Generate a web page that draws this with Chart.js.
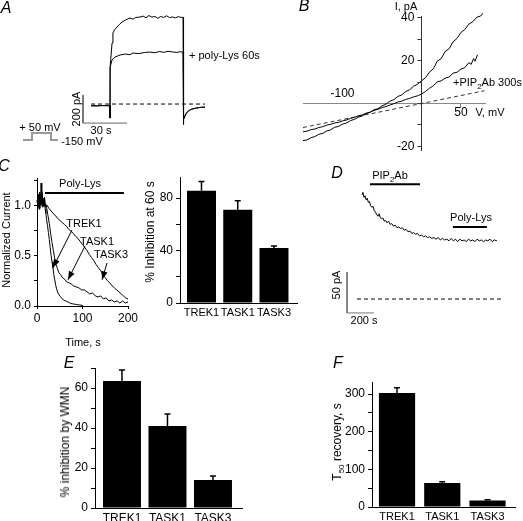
<!DOCTYPE html>
<html>
<head>
<meta charset="utf-8">
<title>Poly-Lys and PIP2 antibody on K2P channels</title>
<script src="https://cdn.jsdelivr.net/npm/chart.js@4.4.1/dist/chart.umd.min.js"></script>
<style>
  body { margin: 0; background: #fff; }
  #fig { position: relative; width: 523px; height: 521px; overflow: hidden;
         font-family: "Liberation Sans", Arial, sans-serif; color: #000; }
  #fig canvas { position: absolute; left: 0; top: 0; }
  .t { position: absolute; white-space: nowrap; font-size: 11px; line-height: 1;
       transform: translate(-50%, -50%); }
  .l { transform: translate(0, -50%); }
  .v { transform: translate(-50%, -50%) rotate(-90deg); }
  .big { font-size: 12px; }
  .p { font-style: italic; font-size: 16px; }
  sub { font-size: 8px; vertical-align: -3px; line-height: 0; }
</style>
</head>
<body>
<div id="fig">
  <canvas id="chA" width="523" height="521"></canvas>
  <canvas id="chB" width="523" height="521"></canvas>
  <canvas id="chBy" width="523" height="521"></canvas>
  <canvas id="chC" width="523" height="521"></canvas>
  <canvas id="chC2" width="523" height="521"></canvas>
  <canvas id="chD" width="523" height="521"></canvas>
  <canvas id="chE" width="523" height="521"></canvas>
  <canvas id="chF" width="523" height="521"></canvas>

  <!-- A -->
  <div class="t p" style="left:6px;top:8px">A</div>
  <div class="t l" style="left:189px;top:55px">+ poly-Lys 60s</div>
  <div class="t v" style="left:76px;top:109px">200 pA</div>
  <div class="t" style="left:101px;top:130px">30 s</div>
  <div class="t" style="left:40px;top:127px">+ 50 mV</div>
  <div class="t" style="left:82px;top:141px">-150 mV</div>
  <!-- B -->
  <div class="t p" style="left:304px;top:6px">B</div>
  <div class="t" style="left:406px;top:6px">I, pA</div>
  <div class="t" style="left:490px;top:112px">V, mV</div>
  <div class="t l" style="left:453px;top:82px">+PIP<sub>2</sub>Ab 300s</div>
  <!-- C -->
  <div class="t p" style="left:4px;top:166px">C</div>
  <div class="t" style="left:80px;top:183px">Poly-Lys</div>
  <div class="t v" style="left:6px;top:240px">Normalized Current</div>
  <div class="t" style="left:84px;top:223px">TREK1</div>
  <div class="t" style="left:97px;top:241px">TASK1</div>
  <div class="t" style="left:111px;top:254px">TASK3</div>
  <div class="t" style="left:83px;top:342px">Time, s</div>
  <div class="t v big" style="left:150px;top:232px">% Inhibition at 60 s</div>
  <!-- D -->
  <div class="t p" style="left:337px;top:173px">D</div>
  <div class="t" style="left:390px;top:175px">PIP<sub>2</sub>Ab</div>
  <div class="t" style="left:471px;top:217px">Poly-Lys</div>
  <div class="t v" style="left:336px;top:285px">50 pA</div>
  <div class="t" style="left:364px;top:320px">200 s</div>
  <!-- E, F -->
  <div class="t p" style="left:69px;top:363px">E</div>
  <div class="t v big" style="left:65px;top:442px">% inhibition by WMN</div>
  <div class="t p" style="left:338px;top:363px">F</div>
  <div class="t v big" style="left:337px;top:442px">T<sub>50</sub> recovery, s</div>
</div>

<script>
const W = 523, H = 521;

// ---- A: current trace, time (s) vs current (pA)
const aControl = [[5.5,-12],[9,-13],[13,-11],[18.3,-12],[18.4,-100],[18.5,264],[19.8,435],[20.4,507],[21.5,530],[23.2,550],[24.8,568],[26.6,585],[29,600],[32,614],[34,606],[36,618],[38.9,621],[41,628],[43,615],[45,632],[47,620],[49,626],[51,612],[53,625],[55,618],[57,630],[59,617],[61,622],[63,615],[65,624],[67,618],[68.2,620],[68.3,-145],[68.8,-110],[69.5,-85],[70.5,-65],[72,-48],[74,-37],[77,-29],[80,-24],[83.2,-22]];
const aPolyLys = [[5.5,-12],[9,-13],[13,-11],[18.3,-12],[18.4,-100],[18.5,264],[19.8,314],[21.8,335],[25.2,350],[29,357],[32,352],[34,364],[38,360],[42,368],[45.7,371],[49,366],[52,375],[55,369],[58,377],[61,372],[64,368],[66,374],[68.2,370],[68.3,-145],[68.8,-110],[69.5,-85],[70.5,-65],[72,-48],[74,-37],[77,-29],[80,-24],[83.2,-22]];
const aZero = [[5.5,0],[83.2,0]];
const aScaleBar = [[0,64],[0,-136],[30,-136]];   // 200 pA, 30 s

// ---- B: I-V curves, mV vs pA
const bControl = [[-150,-17.3],[-145,-17.0],[-140,-16.0],[-135,-15.4],[-130,-14.4],[-125,-13.9],[-120,-12.8],[-115,-12.3],[-110,-11.1],[-105,-10.7],[-100,-9.6],[-95,-9.1],[-90,-8.0],[-85,-7.4],[-80,-6.4],[-75,-5.8],[-70,-4.7],[-65,-4.1],[-60,-2.9],[-55,-2.4],[-50,-1.1],[-45,-0.3],[-40,1.1],[-35,1.8],[-30,3.3],[-25,4.0],[-20,5.6],[-15,6.4],[-10,8.1],[-5,9.0],[0,10.6],[5,12.0],[10,14.6],[15,16.2],[20,19.8],[25,21.0],[30,24.3],[35,25.6],[40,28.8],[45,30.4],[50,33.2],[55,34.6],[60,37.1],[65,38.2],[70,40.3],[75,40.9],[78,42.2]];
const bPip2Ab = [[-150,-13.2],[-145,-12.9],[-140,-12.2],[-135,-11.9],[-130,-11.2],[-125,-10.8],[-120,-10.1],[-115,-9.7],[-110,-9.1],[-105,-8.8],[-100,-8.1],[-95,-7.7],[-90,-6.9],[-85,-6.5],[-80,-5.7],[-75,-5.3],[-70,-4.5],[-65,-4.0],[-60,-3.2],[-55,-2.7],[-50,-1.9],[-45,-1.4],[-40,-0.7],[-35,-0.1],[-30,0.7],[-25,1.1],[-20,1.9],[-15,2.4],[-10,3.1],[-5,3.6],[0,4.4],[5,5.6],[10,7.1],[15,8.3],[20,10.1],[25,10.6],[30,11.9],[35,12.4],[40,14.2],[45,14.6],[50,16.1],[55,16.8],[60,19.1],[63,18.3],[66,21.0],[68,19.8],[71,22.8]];
const bLeak = [[-150,-11.2],[80,6.0]];
const bTicksY = [40, 20, -20];
const bTickBelow = [50];
const bTickAbove = [-100];

// ---- C: normalized current vs time (s)
const cTrek1 = [[0,1.02],[1.5,1.1],[3,0.98],[4.5,1.06],[6,1.13],[7.5,1.0],[9,1.22],[10.5,1.04],[12,1.09],[13.5,0.99],[15,1.07],[16.5,1.02],[18,0.96],[19.5,0.92],[21,0.86],[23,0.8],[25,0.73],[27,0.66],[29,0.58],[31,0.5],[33,0.44],[35,0.38],[37,0.31],[39,0.26],[41,0.21],[43,0.17],[46,0.13],[50,0.1],[54,0.08],[58,0.06],[63,0.05],[68,0.04],[74,0.025],[80,0.02],[87,0.015],[94,0.01],[101,0.005]];
const cTask1 = [[0,1.05],[1.5,0.99],[3,1.11],[4.5,1.03],[6,0.97],[7.5,1.08],[9,1.02],[10.5,1.14],[12,0.98],[13.5,1.05],[15,1.01],[16.5,1.06],[18,0.99],[19.5,1.0],[21,0.98],[24,0.9],[27,0.82],[30,0.72],[33,0.63],[36,0.55],[39,0.47],[42,0.41],[45,0.37],[48,0.33],[52,0.31],[56,0.28],[60,0.27],[65,0.24],[70,0.23],[75,0.22],[80,0.2],[86,0.19],[92,0.18],[98,0.16],[104,0.16],[110,0.14],[116,0.12],[122,0.13],[128,0.1],[134,0.09],[140,0.1],[146,0.07],[152,0.08],[158,0.05],[164,0.06],[170,0.04],[176,0.05],[182,0.03],[188,0.05],[194,0.03],[200,0.04]];
const cTask3 = [[0,1.0],[1.5,1.07],[3,1.03],[4.5,0.96],[6,1.1],[7.5,1.04],[9,1.0],[10.5,1.12],[12,1.06],[13.5,0.99],[15,1.03],[16.5,1.08],[18,1.01],[19.5,0.98],[22,1.0],[26,0.97],[30,0.95],[35,0.92],[40,0.9],[45,0.87],[50,0.85],[55,0.83],[60,0.81],[65,0.79],[70,0.76],[75,0.74],[80,0.72],[85,0.69],[90,0.67],[95,0.64],[100,0.61],[105,0.58],[110,0.55],[115,0.51],[120,0.48],[125,0.45],[130,0.41],[135,0.38],[140,0.35],[145,0.31],[150,0.28],[155,0.25],[160,0.23],[165,0.2],[170,0.18],[175,0.16],[180,0.14],[185,0.12],[190,0.1],[195,0.08],[200,0.07]];
const cPolyLys = [17.6, 191];          // application period, s
const cTicksY = [0, 0.5, 1];
const cTicksX = [0, 100, 200];

// ---- D: current (pA) vs time (s)
const dTrace = [[111,127],[118,130],[126,124],[134,126],[142,121],[150,123],[158,118],[166,119],[175,114],[184,112],[193,113],[202,108],[211,106],[220,103],[229,101],[238,104],[247,99],[256,98],[266,99],[276,95],[286,96],[296,93],[308,95],[320,91],[332,92],[345,89],[358,90],[371,87],[384,88],[397,86],[410,87],[424,84],[438,85],[452,82],[466,83],[480,80],[494,81],[508,79],[522,80],[537,77],[552,78],[567,76],[582,77],[597,75],[612,76],[628,74],[644,75],[660,73],[676,75],[692,72],[708,74],[724,72],[740,73],[756,71],[772,74],[788,71],[804,73],[820,70],[836,73],[852,71],[868,72],[884,70],[900,73],[916,71],[932,72],[948,70],[964,73],[980,71],[996,72],[1012,70],[1028,72],[1044,71],[1060,73],[1076,70],[1092,72],[1111,71]];
const dPip2Ab = [170, 541];
const dPolyLys = [785, 1037];
const dZero = [[74,0],[1156,0]];
const dScaleBar = [[0,33],[0,-17],[200,-17]];   // 50 pA, 200 s

// ---- bar panels
const genes = ['TREK1', 'TASK1', 'TASK3'];
const inhib60 = [85.5, 71, 42];
const inhib60Err = [7, 7, 1.5];
const inhibWMN = [63.5, 41, 14];
const inhibWMNErr = [5.5, 6, 2];
const t50 = [303, 64, 17];
const t50Err = [14, 3, 2.5];

Chart.defaults.font.family = '"Liberation Sans", Arial, sans-serif';
Chart.defaults.font.size = 11;
Chart.defaults.color = '#000';
Chart.defaults.animation = false;
Chart.defaults.responsive = false;
Chart.defaults.devicePixelRatio = 1;
Chart.defaults.events = [];
Chart.defaults.plugins.legend.display = false;
Chart.defaults.plugins.tooltip.enabled = false;
Chart.defaults.elements.point.radius = 0;
Chart.defaults.elements.line.borderWidth = 1;
Chart.defaults.elements.line.tension = 0;

const pts = arr => arr.map(p => ({ x: p[0], y: p[1] }));
const line = (data, extra) => Object.assign({ data: pts(data), borderColor: '#000', borderWidth: 1, clip: false }, extra || {});
const hidden = (min, max) => ({ type: 'linear', display: false, min, max });
const box = (l, t, r, b) => ({ left: l, top: t, right: W - r, bottom: H - b });

// voltage step drawn next to trace A
const protocol = {
  id: 'protocol',
  afterDraw(chart, args, opts) {
    const ctx = chart.ctx;
    ctx.save();
    ctx.strokeStyle = opts.color;
    ctx.lineWidth = opts.width;
    ctx.beginPath();
    opts.path.forEach(([x, y], i) => i ? ctx.lineTo(x, y) : ctx.moveTo(x, y));
    ctx.stroke();
    ctx.restore();
  }
};

// arrows from labels to traces in C
const arrows = {
  id: 'arrows',
  afterDatasetsDraw(chart, args, opts) {
    const { ctx, scales: { x, y } } = chart;
    opts.list.forEach(a => {
      const x0 = a.from[0], y0 = a.from[1];
      const x1 = x.getPixelForValue(a.to[0]), y1 = y.getPixelForValue(a.to[1]);
      const ang = Math.atan2(y1 - y0, x1 - x0);
      ctx.save();
      ctx.strokeStyle = '#000';
      ctx.fillStyle = '#000';
      ctx.lineWidth = 1;
      ctx.beginPath(); ctx.moveTo(x0, y0); ctx.lineTo(x1, y1); ctx.stroke();
      ctx.beginPath();
      ctx.moveTo(x1, y1);
      ctx.lineTo(x1 - 9 * Math.cos(ang - 0.35), y1 - 9 * Math.sin(ang - 0.35));
      ctx.lineTo(x1 - 9 * Math.cos(ang + 0.35), y1 - 9 * Math.sin(ang + 0.35));
      ctx.closePath(); ctx.fill();
      ctx.restore();
    });
  }
};

// one-sided error bars
const errorBars = {
  id: 'errorBars',
  afterDatasetsDraw(chart, args, opts) {
    const ctx = chart.ctx, y = chart.scales.y;
    chart.getDatasetMeta(0).data.forEach((bar, i) => {
      const top = y.getPixelForValue(chart.data.datasets[0].data[i].y + opts.errors[i]);
      ctx.save();
      ctx.strokeStyle = '#000';
      ctx.lineWidth = 1.5;
      ctx.beginPath();
      ctx.moveTo(bar.x, bar.y); ctx.lineTo(bar.x, top);
      ctx.moveTo(bar.x - opts.cap, top); ctx.lineTo(bar.x + opts.cap, top);
      ctx.stroke();
      ctx.restore();
    });
  }
};

// A
new Chart(document.getElementById('chA'), {
  type: 'line',
  data: { datasets: [
    line(aControl),
    line(aPolyLys),
    line(aZero, { borderDash: [4, 3] }),
    line(aScaleBar, { borderColor: '#666' })
  ] },
  options: {
    layout: { padding: box(75, 5, 215, 135) },
    scales: { x: hidden(-5.45, 90), y: hidden(-221, 707) },
    plugins: { protocol: { color: '#999', width: 2, path: [[23,140],[32,140],[32,133],[51,133],[51,140],[58,140]] } }
  },
  plugins: [protocol]
});

// B: curves and the horizontal (voltage) axis crossing at I = 0
const bV = [-150, 80.5], bI = [-21.7, 40.9];
new Chart(document.getElementById('chB'), {
  type: 'line',
  data: { datasets: [
    line(bControl),
    line(bPip2Ab),
    line(bLeak, { borderDash: [4, 3], borderColor: '#333' })
  ] },
  options: {
    layout: { padding: box(303, 16, 485, 150) },
    scales: {
      x: { type: 'linear', min: bV[0], max: bV[1], position: { y: 0 },
           afterBuildTicks: s => { s.ticks = bTickBelow.map(v => ({ value: v })); },
           grid: { drawOnChartArea: false, tickLength: 4, color: '#777' },
           border: { color: '#888' },
           ticks: { padding: -2, font: { size: 12 } } },
      x2: { axis: 'x', type: 'linear', min: bV[0], max: bV[1], position: { y: 0 },
            afterBuildTicks: s => { s.ticks = bTickAbove.map(v => ({ value: v })); },
            grid: { display: false, drawTicks: false }, border: { display: false },
            ticks: { padding: -17, font: { size: 12 } } },
      y: { type: 'linear', min: bI[0], max: bI[1], display: false }
    }
  }
});

// B: current axis at V = 0 (its own left axis so the labels sit beside it)
new Chart(document.getElementById('chBy'), {
  type: 'line',
  data: { datasets: [] },
  options: {
    layout: { padding: { left: 421.4 - 30, top: 16, right: W - 440, bottom: H - 150 } },
    scales: {
      x: hidden(0, 1),
      y: { type: 'linear', min: bI[0], max: bI[1], afterFit: s => { s.width = 30; },
           grid: { drawOnChartArea: false, tickLength: 4, color: '#333' },
           border: { color: '#333' },
           ticks: { stepSize: 10, includeBounds: false, padding: 3, font: { size: 12 },
                    callback: v => bTicksY.includes(v) ? String(v) : '' } }
    }
  }
});

// C left: normalized traces
new Chart(document.getElementById('chC'), {
  type: 'line',
  data: { datasets: [
    line(cTrek1),
    line(cTask1),
    line(cTask3),
    line(cPolyLys.map(t => [t, 1.12]), { borderWidth: 2 })
  ] },
  options: {
    layout: { padding: { left: 0, top: 178, right: W - 128, bottom: H - 306 - 20 } },
    scales: {
      x: { type: 'linear', min: 0, max: 200, afterFit: s => { s.height = 20; },
           grid: { drawOnChartArea: false, tickLength: 3, color: '#000' },
           border: { color: '#000' },
           ticks: { stepSize: 50, padding: 2, maxRotation: 0, font: { size: 12 },
                    callback: v => cTicksX.includes(v) ? String(v) : '' } },
      y: { type: 'linear', min: 0, max: 1.27, afterFit: s => { s.width = 37; },
           grid: { drawOnChartArea: false, tickLength: 3, color: '#000' },
           border: { color: '#000' },
           ticks: { stepSize: 0.25, includeBounds: false, padding: 3, font: { size: 12 },
                    callback: v => cTicksY.includes(v) ? v.toFixed(1) : '' } }
    },
    plugins: { arrows: { list: [
      { from: [72, 230], to: [35, 0.38] },
      { from: [85, 246], to: [68, 0.26] },
      { from: [107, 263], to: [143, 0.26] }
    ] } }
  },
  plugins: [arrows]
});

function barChart(id, values, errors, area, xRange, yMax, yStep, yLabels, pct, xFont) {
  return new Chart(document.getElementById(id), {
    type: 'bar',
    data: { datasets: [{
      data: values.map((v, i) => ({ x: i + 1, y: v })),
      backgroundColor: '#000', borderWidth: 0, barPercentage: 1, categoryPercentage: pct
    }] },
    options: {
      layout: { padding: { left: area[0] - 40, top: area[1], right: W - area[2], bottom: H - area[3] - 18 } },
      scales: {
        x: { type: 'linear', offset: false, min: xRange[0], max: xRange[1],
             afterBuildTicks: s => { s.ticks = genes.map((g, i) => ({ value: i + 1 })); },
             afterFit: s => { s.height = 18; },
             grid: { display: false, drawTicks: false }, border: { color: '#000' },
             ticks: { padding: 3, maxRotation: 0, autoSkip: false, font: { size: xFont },
                      callback: v => genes[v - 1] } },
        y: { type: 'linear', min: 0, max: yMax, afterFit: s => { s.width = 40; },
             grid: { drawOnChartArea: false, tickLength: 4, color: '#000' },
             border: { color: '#000' },
             ticks: { stepSize: yStep, includeBounds: false, padding: 3, font: { size: 12 },
                      callback: v => yLabels.includes(v) ? String(v) : '' } }
      },
      plugins: { errorBars: { errors, cap: 3 } }
    },
    plugins: [errorBars]
  });
}

barChart('chC2', inhib60, inhib60Err, [180, 177, 297, 303], [0.407, 3.635], 96, 10, [0, 40, 80], 0.8, 11);

// D
new Chart(document.getElementById('chD'), {
  type: 'line',
  data: { datasets: [
    line(dTrace),
    line(dZero, { borderDash: [4, 3] }),
    line(dScaleBar, { borderColor: '#777' }),
    line(dPip2Ab.map(t => [t, 140]), { borderWidth: 2 }),
    line(dPolyLys.map(t => [t, 88]), { borderWidth: 2 })
  ] },
  options: {
    layout: { padding: box(347, 160, 510, 320) },
    scales: { x: hidden(0, 1208), y: hidden(-25.6, 169.6) }
  }
});

barChart('chE', inhibWMN, inhibWMNErr, [95, 368, 242, 508], [0.407, 3.638], 70, 10, [0, 20, 40, 60], 0.835, 12);
barChart('chF', t50, t50Err, [372, 382, 515, 507], [0.447, 3.607], 332, 25, [0, 100, 200, 300], 0.8, 11);
</script>
</body>
</html>
